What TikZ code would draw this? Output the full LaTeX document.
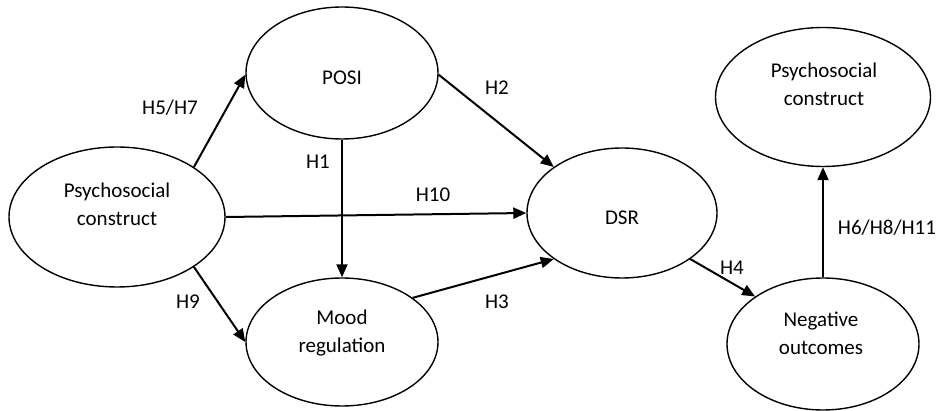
\documentclass[tikz,border=0pt]{standalone}
\usepackage{fontspec}
\setmainfont{Carlito}
\usetikzlibrary{shapes.geometric,arrows.meta}
\begin{document}
\begin{tikzpicture}[x=1pt,y=-1pt,
  construct/.style={draw,ellipse,line width=1.4pt,inner sep=0pt},
  lbl/.style={font=\fontsize{21}{28}\selectfont,inner sep=0pt,align=center},
  link/.style={line width=2pt,-{Triangle[length=13pt,width=11pt]}}]
\useasboundingbox (0,0) rectangle (938,411);

% latent constructs
\node[construct,minimum width=216pt,minimum height=140pt] (psyL) at (117,217) {};
\node[construct,minimum width=192pt,minimum height=132pt] (posi) at (342,73) {};
\node[construct,minimum width=190pt,minimum height=130pt] (dsr)  at (622,213) {};
\node[construct,minimum width=192pt,minimum height=128pt] (mood) at (342,342) {};
\node[construct,minimum width=215pt,minimum height=139pt] (psyR) at (823,97) {};
\node[construct,minimum width=192pt,minimum height=132pt] (neg)  at (823,344) {};

% construct names
\node[lbl] (psyL-t) at (117,204) {Psychosocial\\construct};
\node[lbl] (posi-t) at (342,78) {POSI};
\node[lbl] (dsr-t)  at (622,218) {DSR};
\node[lbl] (mood-t) at (342,333) {Mood\\regulation};
\node[lbl] (psyR-t) at (824,84) {Psychosocial\\construct};
\node[lbl] (neg-t)  at (821,333) {Negative\\outcomes};

% hypothesised paths
\draw[link] (psyL.33.7) -- (posi.181);
\draw[link] (psyL.-33.9) -- (mood.180);
\draw[link] (psyL.0) -- (dsr.180);
\draw[link] (posi.270) -- (mood.90);
\draw[link] (posi.-1) -- (dsr.146);
\draw[link] (mood.32.7) -- (dsr.214.3);
\draw[link] (dsr.-34.6) -- (neg.145.4);
\draw[link] (neg.90) -- (psyR.270);

% path labels
\node[lbl] (h57)  at (170,108) {H5/H7};
\node[lbl] (h1)   at (318,162) {H1};
\node[lbl] (h2)   at (497,88)  {H2};
\node[lbl] (h10)  at (433,195) {H10};
\node[lbl] (h9)   at (188,302) {H9};
\node[lbl] (h3)   at (497,302) {H3};
\node[lbl] (h4)   at (732,268) {H4};
\node[lbl] (h6)   at (887,228) {H6/H8/H11};
\end{tikzpicture}
\end{document}
